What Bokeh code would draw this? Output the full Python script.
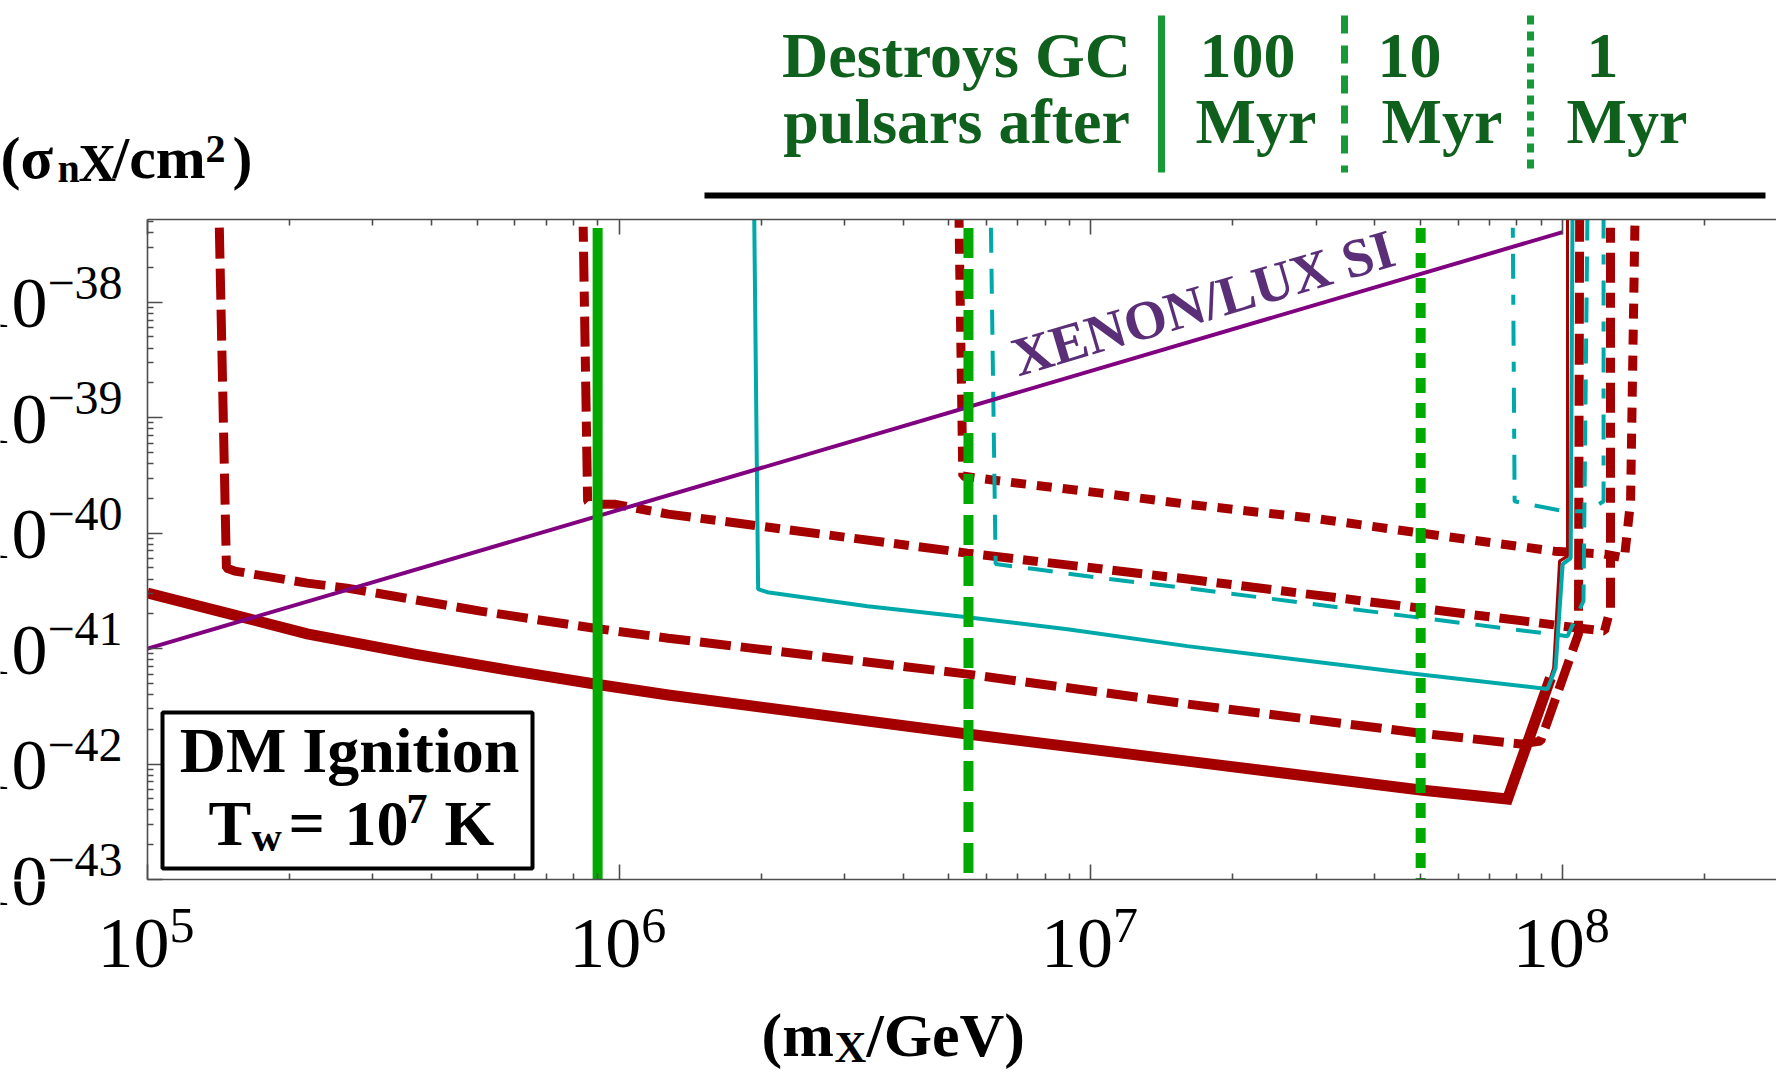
import math
from bokeh.plotting import figure
from bokeh.layouts import column, row
from bokeh.models import FixedTicker, LogAxis, Label, BoxAnnotation, Range1d
from bokeh.embed import file_html
from bokeh.resources import INLINE

# ---------------- data ----------------
X_RANGE = (1e5, 2.84e8)
Y_RANGE = (1e-43, 5.2e-38)
WALL_TOP = 1e-37

x_major_exp = [5, 6, 7, 8]
y_major_exp = [-38, -39, -40, -41, -42, -43]

xenon_m = [1e5, 1e8]
xenon_s = [1e-41, 4.04e-38]

red_solid_m = [1.0e5, 1.50e5, 2.18e5, 3.68e5, 6.0e5, 8.87e5, 1.27e6, 5.47e6, 1.60e7, 5.0e7, 7.64e7, 9.42e7]
red_solid_s = [3.03e-41, 1.99e-41, 1.34e-41, 8.96e-42, 6.38e-42, 4.93e-42, 3.96e-42, 1.82e-42, 1.06e-42, 5.96e-43, 4.98e-43, 5.55e-42]
red_solid_wall_m = [9.42e7, 9.57e7, 9.85e7, 1.024e8, 1.024e8]
red_solid_wall_s = [5.55e-42, 6.78e-42, 5.72e-41, 6.32e-41, WALL_TOP]

red_dash_m = [1.414e5, 1.47e5, 1.53e5, 2.18e5, 2.65e5, 5.08e5, 8.87e5, 1.27e6, 5.47e6, 1.60e7, 5.0e7, 8.15e7, 8.98e7, 1.08e8, 1.087e8]
red_dash_s = [WALL_TOP, 4.98e-41, 4.69e-41, 3.69e-41, 3.34e-41, 2.11e-41, 1.50e-41, 1.23e-41, 6.01e-42, 3.31e-42, 1.85e-42, 1.49e-42, 1.58e-42, 1.34e-41, WALL_TOP]

red_dotdash_m = [8.36e5, 8.57e5, 8.69e5, 9.77e5, 1.27e6, 5.47e6, 1.60e7, 8.98e7, 1.087e8, 1.227e8, 1.263e8, 1.263e8]
red_dotdash_s = [WALL_TOP, 1.89e-40, 1.78e-40, 1.78e-40, 1.46e-40, 6.71e-41, 4.0e-41, 1.66e-41, 1.50e-41, 1.42e-41, 2.24e-41, WALL_TOP]

red_dot_m = [5.24e6, 5.35e6, 6.43e6, 1.05e7, 1.60e7, 3.07e7, 5.0e7, 9.61e7, 1.227e8, 1.352e8, 1.393e8, 1.427e8]
red_dot_s = [WALL_TOP, 3.12e-40, 2.82e-40, 2.22e-40, 1.78e-40, 1.32e-40, 1.0e-40, 6.98e-41, 6.58e-41, 6.08e-41, 1.89e-40, WALL_TOP]

cyan_solid_m = [1.93e6, 1.97e6, 2.06e6, 3.36e6, 5.47e6, 8.92e6, 1.60e7, 4.69e7, 9.29e7, 9.66e7, 1.0e8, 1.04e8, 1.05e8]
cyan_solid_s = [WALL_TOP, 3.27e-41, 3.08e-41, 2.33e-41, 1.87e-41, 1.47e-41, 1.05e-41, 6.14e-42, 4.46e-42, 6.78e-42, 5.39e-41, 6.08e-41, WALL_TOP]

cyan_dash_m = [6.12e6, 6.28e6, 7.59e6, 1.05e7, 1.60e7, 4.69e7, 1.024e8, 1.107e8, 1.13e8]
cyan_dash_s = [WALL_TOP, 5.39e-41, 4.88e-41, 4.08e-41, 3.34e-41, 1.91e-41, 1.28e-41, 2.58e-41, WALL_TOP]

cyan_dotdash_m = [7.83e7, 7.91e7, 8.43e7, 1.004e8, 1.13e8, 1.221e8, 1.221e8]
cyan_dotdash_s = [WALL_TOP, 1.89e-40, 1.78e-40, 1.55e-40, 1.55e-40, 1.89e-40, WALL_TOP]

pulsar_m = [9.0e5, 5.5e6, 5.0e7]
pulsar_top, pulsar_bottom = 4.4e-38, 1e-43
pulsar_years = ["100", "10", "1"]

# ---------------- style / layout ----------------
RED = "#a50000"
CYAN = "#00a9a9"
GREEN = "#00aa00"
PURPLE = "#800080"
TXT_PURPLE = "#5b2f78"
LEG_GREEN = "#0f5f1d"
LEG_LINE = "#159a37"
AXIS = "#4d4d4d"
SERIF = "Liberation Serif"
MID = 0.3375          # em fraction between baseline and text middle

W, H = 1776, 1076
F_LEFT, F_TOP, F_BOTTOM = 147, 219, 879       # main frame edges on the page
PAD_H, PAD_V = 10, 2                           # main figure borders holding tick-only axes
HEAD_H = F_TOP - PAD_V
LEFT_W = F_LEFT - PAD_H
MAIN_W = W - LEFT_W
MAIN_H = (F_BOTTOM - F_TOP) + 2 * PAD_V
FOOT_TOP = HEAD_H + MAIN_H
FOOT_H = H - FOOT_TOP
FW = W - F_LEFT
FH = F_BOTTOM - F_TOP

LX0, LX1 = math.log10(X_RANGE[0]), math.log10(X_RANGE[1])
LY0, LY1 = math.log10(Y_RANGE[0]), math.log10(Y_RANGE[1])
DPX = (LX1 - LX0) / FW
DPY = (LY1 - LY0) / FH


def bare(fig):
    fig.outline_line_color = None
    fig.background_fill_color = "white"
    fig.border_fill_color = "white"
    fig.grid.visible = False
    return fig


def mk_label(text, size, color="black", style="bold", align="left", angle=0.0, **kw):
    return Label(text=text, text_font=SERIF, text_font_size=f"{size}px",
                 text_font_style=style, text_color=color, text_align=align,
                 text_baseline="middle", angle=angle, **kw)


# ---------------- main plot ----------------
p = bare(figure(width=MAIN_W, height=MAIN_H, x_axis_type="log", y_axis_type="log",
                x_range=X_RANGE, y_range=Y_RANGE, output_backend="svg",
                toolbar_location=None, min_border_left=PAD_H, min_border_right=0,
                min_border_top=PAD_V, min_border_bottom=PAD_V))

x_minor = [k * 10.0 ** e for e in range(4, 9) for k in range(2, 10)]
y_minor = [k * 10.0 ** e for e in range(-44, -37) for k in range(2, 10)]
x_ticks = [10.0 ** e for e in x_major_exp]
y_ticks = [10.0 ** e for e in y_major_exp]
xt = FixedTicker(ticks=x_ticks, minor_ticks=x_minor)
yt = FixedTicker(ticks=y_ticks, minor_ticks=y_minor)


def style_axis(ax, ticks):
    ax.axis_line_color = AXIS
    ax.axis_line_width = 1.6
    ax.major_tick_line_color = AXIS
    ax.major_tick_line_width = 1.6
    ax.minor_tick_line_color = AXIS
    ax.minor_tick_line_width = 1.6
    ax.major_tick_in = 15
    ax.major_tick_out = 0
    ax.minor_tick_in = 6
    ax.minor_tick_out = 0
    ax.major_label_text_font_size = "1px"
    ax.major_label_text_alpha = 0.0
    ax.major_label_standoff = 0
    ax.major_label_overrides = {t: " " for t in ticks}


p.xaxis.ticker = xt
p.yaxis.ticker = yt
style_axis(p.xaxis[0], x_ticks)
style_axis(p.yaxis[0], y_ticks)
top_axis = LogAxis(ticker=xt)
style_axis(top_axis, x_ticks)
p.add_layout(top_axis, "above")

p.line(red_solid_m, red_solid_s, line_color=RED, line_width=11, line_join="miter")
p.line(red_solid_wall_m, red_solid_wall_s, line_color=RED, line_width=3)
p.line(red_dash_m, red_dash_s, line_color=RED, line_width=9, line_dash="31 10")
p.line(red_dotdash_m, red_dotdash_s, line_color=RED, line_width=9, line_dash="30 10 15 10")
p.line(red_dot_m, red_dot_s, line_color=RED, line_width=9, line_dash="15 11")

p.line(cyan_solid_m, cyan_solid_s, line_color=CYAN, line_width=4)
p.line(cyan_dash_m, cyan_dash_s, line_color=CYAN, line_width=4, line_dash="25 16")
p.line(cyan_dotdash_m, cyan_dotdash_s, line_color=CYAN, line_width=4, line_dash="25 16 10 16")

p.line(xenon_m, xenon_s, line_color=PURPLE, line_width=4)

for m, dash in zip(pulsar_m, ["solid", "30 11", "15 10"]):
    p.line([m, m], [pulsar_top, pulsar_bottom], line_color=GREEN, line_width=10, line_dash=dash)


def mlabel(text, rx, ry, size, color="black", style="bold", align="left", angle=0.0):
    """Label inside the main frame; (rx, ry) is the baseline point in page pixels."""
    d = MID * size
    cx, cy = rx - d * math.sin(angle), ry - d * math.cos(angle)
    p.add_layout(mk_label(text, size, color, style, align, angle,
                          x=X_RANGE[0], y=Y_RANGE[1],
                          x_offset=cx - F_LEFT, y_offset=F_TOP - cy))


mlabel("XENON/LUX SI", 1018, 376, 55, color=TXT_PURPLE, angle=0.2862)

box_l = 10 ** (LX0 + (162 - F_LEFT) * DPX)
box_r = 10 ** (LX0 + (532 - F_LEFT) * DPX)
box_t = 10 ** (LY1 - (712 - F_TOP) * DPY)
box_b = 10 ** (LY1 - (868 - F_TOP) * DPY)
p.add_layout(BoxAnnotation(left=box_l, right=box_r, top=box_t, bottom=box_b,
                           fill_color="white", fill_alpha=1.0, line_color="black",
                           line_alpha=1.0, line_width=4))
mlabel("DM Ignition", 349, 772, 64, align="center")
mlabel("T", 208, 845, 64)
mlabel("w", 251, 851, 42)
mlabel("=", 288, 845, 64)
mlabel("10", 344, 845, 64)
mlabel("7", 406, 823, 42)
mlabel("K", 444, 845, 64)

# ---------------- header (legend + y title) ----------------
head = bare(figure(width=W, height=HEAD_H, x_range=Range1d(0, W), y_range=Range1d(HEAD_H, 0),
                   x_axis_location=None, y_axis_location=None, toolbar_location=None,
                   output_backend="svg", min_border=0))


def hlabel(text, rx, ry, size, color="black", style="bold", align="left"):
    head.add_layout(mk_label(text, size, color, style, align, x=rx, y=ry - MID * size))


hlabel("(\u03c3", 0, 178, 60)
hlabel("n", 57, 181, 40)
hlabel("X", 78, 181, 52)
hlabel("/cm", 112, 178, 60)
hlabel("2", 205, 162, 40)
hlabel(")", 232, 178, 60)

hlabel("Destroys GC", 956, 77, 64, color=LEG_GREEN, align="center")
hlabel("pulsars after", 956, 143, 64, color=LEG_GREEN, align="center")
for yr, lx, mx in zip(pulsar_years, [1199, 1377, 1586], [1195, 1381, 1566]):
    hlabel(yr, lx, 77, 64, color=LEG_GREEN)
    hlabel("Myr", mx, 143, 64, color=LEG_GREEN)

for lx, dash in zip([1161, 1344, 1530], ["solid", "18 12", "9 7"]):
    head.segment(x0=[lx], y0=[15], x1=[lx], y1=[172], line_color=LEG_LINE, line_width=7,
                 line_dash=dash)
head.segment(x0=[704], y0=[195], x1=[1765], y1=[195], line_color="black", line_width=6)

# ---------------- left strip (y tick labels); its frame aligns with the main frame ----------------
left = bare(figure(width=LEFT_W, height=MAIN_H, x_range=Range1d(0, LEFT_W),
                   y_range=Y_RANGE, y_axis_type="log", x_axis_location=None,
                   y_axis_location=None, toolbar_location=None, output_backend="svg",
                   min_border=0))
YL_X, YL_BASE, YL_SUP = 47, 26, -3      # label anchor x, baseline shifts (px, down positive)
for e in y_major_exp:
    v = 10.0 ** e
    left.add_layout(mk_label("10", 72, style="normal", align="right", x=YL_X, y=v,
                             y_offset=-YL_BASE + MID * 72))
    left.add_layout(mk_label("\u2212" + str(-e), 48, style="normal", align="left", x=YL_X, y=v,
                             y_offset=-YL_SUP + MID * 48))

# ---------------- footer (x tick labels + x title) ----------------
foot = bare(figure(width=W, height=FOOT_H, x_axis_type="log",
                   x_range=Range1d(10 ** (LX0 - F_LEFT * DPX), X_RANGE[1]),
                   y_range=Range1d(FOOT_H, 0), x_axis_location=None, y_axis_location=None,
                   toolbar_location=None, output_backend="svg", min_border=0))
for e in x_major_exp:
    v = 10.0 ** e
    foot.add_layout(mk_label("10", 72, style="normal", x=v, x_offset=-50,
                             y=967 - FOOT_TOP - MID * 72))
    foot.add_layout(mk_label(str(e), 50, style="normal", x=v, x_offset=22,
                             y=942 - FOOT_TOP - MID * 50))

# lower part of the lowest y tick label continues below the left strip
e_low = y_major_exp[-1]
y_low_base = F_TOP + (LY1 - e_low) / DPY + YL_BASE
foot.add_layout(mk_label("10", 72, style="normal", align="right",
                         x=10 ** (LX0 - (F_LEFT - YL_X) * DPX),
                         y=y_low_base - FOOT_TOP - MID * 72))


def flabel(text, rx, ry, size):
    foot.add_layout(mk_label(text, size, x=rx, x_units="screen",
                             y=ry - FOOT_TOP - MID * size))


flabel("(m", 761, 1055, 62)
flabel("X", 834, 1062, 44)
flabel("/GeV)", 866, 1055, 62)

layout = column(head, row(left, p), foot)
open("out.html", "w").write(file_html(layout, INLINE))
